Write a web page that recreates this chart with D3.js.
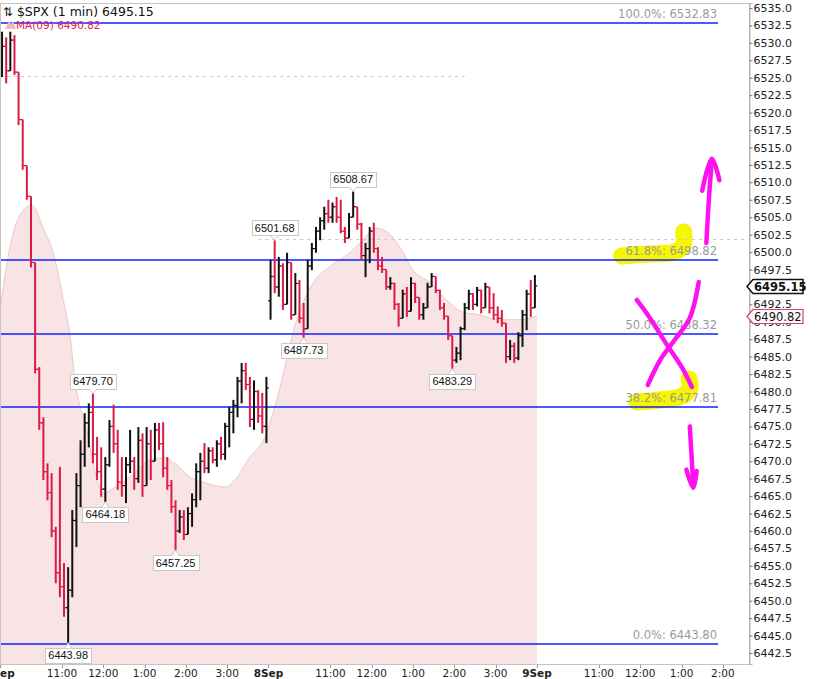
<!DOCTYPE html>
<html>
<head>
<meta charset="utf-8">
<script src="https://cdn.jsdelivr.net/npm/d3@7"></script>
<style>
  body { margin: 0; background: #fff; }
  svg { display: block; }
</style>
</head>
<body>
<div id="chart"></div>
<script>
// ---- data -------------------------------------------------------------
const dayLabels = ["5Sep", "8Sep", "9Sep"];
const hourTicks = [[90, "11:00"], [150, "12:00"], [210, "1:00"], [270, "2:00"], [330, "3:00"]];
const sessionMinutes = 390;   // 9:30 - 16:00
const barMinutes = 6;

// [open, high, low, close] per 6-minute bar
const bars5Sep = [
  [6527.0,6531.6,6525.1,6529.5],[6529.5,6530.8,6524.2,6526.0],[6526.0,6531.6,6526.0,6530.4],[6530.4,6531.1,6525.4,6525.8],
  [6525.8,6525.8,6518.2,6519.0],[6519.0,6519.0,6511.8,6512.4],[6512.4,6512.4,6507.5,6508.0],[6508.0,6508.0,6497.8,6498.5],
  [6498.5,6498.5,6482.6,6483.2],[6483.2,6483.5,6474.5,6475.5],[6475.5,6476.3,6467.3,6468.5],[6468.5,6469.7,6464.4,6465.5],
  [6465.5,6468.3,6459.1,6460.0],[6460.0,6460.6,6452.5,6454.0],[6454.0,6469.2,6450.5,6452.0],[6452.0,6455.4,6447.7,6449.0],
  [6449.0,6454.8,6443.98,6451.5],[6451.5,6463.0,6450.5,6461.5],[6461.5,6468.3,6457.7,6466.5],[6466.5,6473.0,6463.4,6471.0],
  [6471.0,6476.9,6469.2,6475.5],[6475.5,6478.3,6472.0,6477.0],[6477.0,6479.70,6469.7,6471.0],[6471.0,6473.5,6467.3,6468.5],
  [6468.5,6472.0,6464.9,6466.0],[6466.0,6470.6,6464.18,6469.5],[6469.5,6475.9,6469.2,6475.0],[6475.0,6478.1,6471.2,6472.5],
  [6472.5,6474.5,6465.9,6467.0],[6467.0,6470.6,6464.9,6466.5],[6466.5,6470.6,6464.0,6469.5],[6469.5,6474.5,6468.3,6470.0],
  [6470.0,6470.6,6465.9,6467.5],[6467.5,6474.9,6466.9,6473.0],[6473.0,6474.0,6464.9,6466.5],[6466.5,6474.9,6466.5,6472.5],
  [6472.5,6474.5,6467.3,6470.0],[6470.0,6475.5,6470.0,6474.5],[6474.5,6475.5,6471.6,6472.5],[6472.5,6475.6,6467.7,6469.0],
  [6469.0,6470.6,6465.9,6466.5],[6466.5,6467.3,6462.6,6463.5],[6463.5,6464.4,6457.25,6460.0],[6460.0,6463.0,6459.7,6462.0],
  [6462.0,6463.0,6458.7,6459.5],[6459.5,6463.4,6459.5,6462.5],[6462.5,6465.4,6460.6,6464.5],[6464.5,6469.7,6463.4,6468.5],
  [6468.5,6471.2,6464.4,6470.0],[6470.0,6472.6,6468.3,6469.0],[6469.0,6472.0,6468.3,6471.5],[6471.5,6472.0,6469.7,6470.2],
  [6470.2,6473.0,6469.2,6472.5],[6472.5,6473.5,6470.2,6471.0],[6471.0,6475.5,6470.2,6475.0],[6475.0,6477.8,6472.0,6477.0],
  [6477.0,6478.8,6474.0,6478.0],[6478.0,6482.1,6476.3,6481.5],[6481.5,6484.1,6478.3,6483.0],[6483.0,6484.1,6480.2,6481.0],
  [6481.0,6482.1,6474.9,6476.0],[6476.0,6481.6,6474.5,6480.0],[6480.0,6480.2,6475.5,6476.5],[6476.5,6479.8,6474.0,6475.0],
  [6475.0,6482.1,6472.6,6480.5]
];
const bars8Sep = [
  [6493.0,6498.9,6490.3,6496.5],[6496.5,6501.68,6494.1,6495.0],[6495.0,6499.3,6493.6,6498.0],[6498.0,6498.4,6491.7,6492.5],
  [6492.5,6499.9,6492.5,6498.5],[6498.5,6498.5,6490.3,6491.0],[6491.0,6497.0,6491.0,6495.5],[6495.5,6496.0,6489.8,6490.5],
  [6490.5,6492.7,6487.73,6489.0],[6489.0,6498.9,6489.0,6498.0],[6498.0,6501.3,6497.4,6500.5],[6500.5,6503.6,6499.9,6503.0],
  [6503.0,6505.0,6501.7,6504.5],[6504.5,6506.5,6503.2,6505.5],[6505.5,6507.5,6504.2,6505.0],[6505.0,6507.1,6504.2,6506.5],
  [6506.5,6507.9,6504.2,6505.0],[6505.0,6507.5,6502.7,6503.0],[6503.0,6503.6,6501.3,6502.0],[6502.0,6505.6,6502.0,6505.0],
  [6505.0,6508.67,6505.0,6506.5],[6506.5,6506.5,6503.2,6504.0],[6504.0,6504.2,6498.9,6499.5],[6499.5,6501.3,6496.4,6500.5],
  [6500.5,6503.6,6498.4,6503.0],[6503.0,6504.2,6499.9,6500.5],[6500.5,6500.7,6497.4,6498.0],[6498.0,6499.3,6497.0,6497.5],
  [6497.5,6497.5,6494.6,6495.0],[6495.0,6496.4,6494.6,6495.5],[6495.5,6495.6,6491.7,6492.5],[6492.5,6492.7,6489.3,6490.5],
  [6490.5,6494.6,6490.5,6494.0],[6494.0,6495.0,6490.7,6491.5],[6491.5,6496.4,6491.5,6495.5],[6495.5,6495.6,6492.7,6493.5],
  [6493.5,6493.5,6490.3,6491.0],[6491.0,6492.7,6490.3,6492.0],[6492.0,6495.6,6492.0,6495.0],[6495.0,6497.0,6495.0,6496.5],
  [6496.5,6496.5,6494.1,6494.5],[6494.5,6494.6,6491.7,6492.0],[6492.0,6492.7,6490.3,6490.8],[6490.8,6490.8,6487.4,6488.0],
  [6488.0,6488.0,6483.29,6484.5],[6484.5,6486.4,6484.1,6485.5],[6485.5,6489.3,6484.5,6489.0],[6489.0,6492.7,6488.8,6492.0],
  [6492.0,6494.6,6491.7,6494.0],[6494.0,6494.1,6491.7,6492.5],[6492.5,6495.0,6492.2,6494.5],[6494.5,6494.6,6491.2,6492.0],
  [6492.0,6495.6,6492.0,6495.0],[6495.0,6495.0,6491.2,6492.0],[6492.0,6494.1,6490.3,6491.0],[6491.0,6492.2,6489.8,6490.5],
  [6490.5,6491.7,6489.3,6489.8],[6489.8,6489.8,6484.1,6485.0],[6485.0,6487.4,6484.5,6486.5],[6486.5,6487.0,6484.1,6484.8],
  [6484.8,6488.5,6484.5,6488.0],[6488.0,6491.7,6486.4,6491.0],[6491.0,6494.6,6488.8,6494.0],[6494.0,6496.0,6490.7,6492.0],
  [6492.0,6496.7,6492.0,6495.15]
];
const sessions = [bars5Sep, bars8Sep];

// MA(09) shaded curve: [minutes since 5Sep 9:30 (sessions joined), value]
const maPoints = [
  [0,6491.7],[15,6501.0],[29,6505.3],[46,6506.75],[62,6503.6],[80,6498.9],[92,6493.1],[102,6487.8],
  [109,6481.6],[126,6474.5],[141,6467.3],[150,6465.4],[167,6466.3],[189,6467.7],[218,6470.2],[240,6470.5],
  [254,6469.7],[276,6467.7],[298,6466.9],[327,6466.3],[341,6467.3],[363,6470.6],[385,6473.5],[402,6478.8],
  [431,6490.3],[455,6495.6],[479,6497.9],[508,6499.9],[527,6501.7],[545,6503.45],[562,6502.9],[581,6500.7],
  [600,6497.4],[625,6495.6],[649,6493.1],[672,6491.4],[697,6491.0],[722,6490.3],[755,6490.3],[780,6490.82]
];

const fibLevels = [["100.0%", 6532.83], ["61.8%", 6498.82], ["50.0%", 6488.32], ["38.2%", 6477.81], ["0.0%", 6443.80]];
const refLines = [[6525.25, 0, 675], [6501.90, 375, 1088]];   // [value, from minute, to minute]
const pivots = [[0, 16, "low"], [0, 22, "high"], [0, 25, "low"], [0, 42, "low"],
                [1, 1, "high"], [1, 8, "low"], [1, 20, "high"], [1, 44, "low"]];   // [session, bar, kind]
const yTicks = [6442.5,6445.0,6447.5,6450.0,6452.5,6455.0,6457.5,6460.0,6462.5,6465.0,6467.5,6470.0,6472.5,
  6475.0,6477.5,6480.0,6482.5,6485.0,6487.5,6490.0,6492.5,6495.0,6497.5,6500.0,6502.5,6505.0,6507.5,6510.0,
  6512.5,6515.0,6517.5,6520.0,6522.5,6525.0,6527.5,6530.0,6532.5,6535.0];
const lastPrice = 6495.15;
const lastMA = 6490.82;

// hand-drawn marks, in [minute, price]
const yellowMarks = [
  [[903,6499.44],[944,6499.72],[980,6500.01],[992,6500.87],[993,6502.88]],
  [[925,6478.5],[959,6478.78],[991,6479.36],[1002,6480.5],[1001,6481.8]]
];
const magentaMarks = [
  [[925,6493.13],[944,6490.55],[969,6486.67],[991,6483.38],[1005,6480.65]],
  [[1015,6495.71],[1002,6490.55],[980,6487.39],[959,6484.52],[941,6480.94]],
  [[1026,6501.3],[1030,6508.0],[1034,6513.2]],
  [[1020,6508.8],[1034,6513.4],[1045,6510.3]],
  [[1002,6475.0],[1005,6470.0],[1007,6466.6]],
  [[997,6468.8],[1007,6466.2],[1012,6468.6]]
];

// ---- layout -----------------------------------------------------------
const W = 821, H = 679;
const plot = { left: 0, right: 749, top: 3, bottom: 664 };
const fontUI = "'DejaVu Sans', Verdana, sans-serif";

const svg = d3.select("#chart").append("svg")
  .attr("width", W).attr("height", H)
  .style("font-family", fontUI);

const x = d3.scaleLinear().domain([0, 1088]).range([plot.left, plot.right]);
const y = d3.scaleLinear().domain([6440.92, 6535.72]).range([plot.bottom, plot.top]);

svg.append("defs").append("clipPath").attr("id", "clip")
  .append("rect").attr("x", plot.left).attr("y", plot.top)
  .attr("width", plot.right - plot.left).attr("height", plot.bottom - plot.top);

const g = svg.append("g").attr("clip-path", "url(#clip)");

// MA area
const area = d3.area().x(d => x(d[0])).y0(y.range()[0]).y1(d => y(d[1])).curve(d3.curveMonotoneX);
const maLine = d3.line().x(d => x(d[0])).y(d => y(d[1])).curve(d3.curveMonotoneX);
g.append("path").datum(maPoints).attr("d", area).attr("fill", "#f8e4e4");
g.append("path").datum(maPoints).attr("d", maLine).attr("fill", "none")
  .attr("stroke", "#eec6c9").attr("stroke-width", 1);

// yellow highlighter (under the lines and labels)
const freeLine = d3.line().x(d => x(d[0])).y(d => y(d[1])).curve(d3.curveCatmullRom);
g.selectAll("path.yellow").data(yellowMarks).enter().append("path")
  .attr("d", freeLine).attr("fill", "none").attr("stroke", "#f6f600")
  .attr("stroke-width", 17).attr("stroke-linecap", "round").attr("stroke-linejoin", "round");

// dashed reference lines
g.selectAll("line.ref").data(refLines).enter().append("line")
  .attr("x1", d => x(d[1])).attr("x2", d => x(d[2]))
  .attr("y1", d => Math.round(y(d[0])) + 0.5).attr("y2", d => Math.round(y(d[0])) + 0.5)
  .attr("stroke", "#c9c9c9").attr("stroke-dasharray", "3,4");

// fib lines
g.selectAll("line.fib").data(fibLevels).enter().append("line")
  .attr("x1", x(0)).attr("x2", 718)
  .attr("y1", d => Math.round(y(d[1]))).attr("y2", d => Math.round(y(d[1])))
  .attr("stroke", "#1020ff").attr("stroke-width", 1.6);

// OHLC bars
const barData = [];
sessions.forEach((bars, s) => bars.forEach((b, i) => barData.push({
  m: s * sessionMinutes + i * barMinutes + barMinutes / 2, o: b[0], h: b[1], l: b[2], c: b[3]
})));
const barG = g.selectAll("g.bar").data(barData).enter().append("g")
  .attr("stroke", d => d.c >= d.o ? "#111" : "#dc1a44");
barG.append("line").attr("x1", d => x(d.m)).attr("x2", d => x(d.m))
  .attr("y1", d => y(d.h)).attr("y2", d => y(d.l)).attr("stroke-width", 2);
barG.append("line").attr("x1", d => x(d.m) - 2.5).attr("x2", d => x(d.m))
  .attr("y1", d => y(d.o)).attr("y2", d => y(d.o)).attr("stroke-width", 1.2);
barG.append("line").attr("x1", d => x(d.m)).attr("x2", d => x(d.m) + 2.5)
  .attr("y1", d => y(d.c)).attr("y2", d => y(d.c)).attr("stroke-width", 1.2);

// fib labels
svg.selectAll("text.fib").data(fibLevels).enter().append("text")
  .attr("x", 717).attr("y", d => y(d[1]) - 5)
  .attr("text-anchor", "end").attr("font-size", 11.5).attr("fill", "#9a9a9a")
  .text(d => `${d[0]}: ${d[1].toFixed(2)}`);

// pivot labels
pivots.forEach(p => {
  const b = sessions[p[0]][p[1]];
  const m = p[0] * sessionMinutes + p[1] * barMinutes + barMinutes / 2;
  const v = p[2] === "high" ? b[1] : b[2];
  const px = x(m), py = y(v);
  const lg = svg.append("g");
  const t = lg.append("text").attr("font-size", 11).attr("font-family", "'Liberation Sans', Arial, sans-serif")
    .attr("fill", "#111").attr("text-anchor", "middle").text(v.toFixed(2));
  const tw = t.node().getComputedTextLength() + 6;
  const bh = 15;
  const top = p[2] === "high" ? py - 5 - bh : py + 5;
  lg.insert("rect", "text").attr("x", Math.round(px - tw / 2) + 0.5).attr("y", Math.round(top) + 0.5)
    .attr("width", Math.round(tw)).attr("height", bh)
    .attr("fill", "#fff").attr("stroke", "#c8c8c8");
  const tipY = p[2] === "high" ? top + bh : top;
  const dir = p[2] === "high" ? 1 : -1;
  lg.append("path").attr("d", `M${px - 4},${tipY + 0.5} L${px},${tipY + dir * 4.5} L${px + 4},${tipY + 0.5}`)
    .attr("fill", "#fff").attr("stroke", "#c8c8c8");
  t.attr("x", px).attr("y", top + 11.5);
});

// magenta ink
svg.selectAll("path.magenta").data(magentaMarks).enter().append("path")
  .attr("d", freeLine).attr("fill", "none").attr("stroke", "#ff10f0")
  .attr("stroke-width", 4.5).attr("stroke-linecap", "round").attr("stroke-linejoin", "round");

// frame
svg.append("rect").attr("x", plot.left + 0.5).attr("y", plot.top + 0.5)
  .attr("width", plot.right - plot.left).attr("height", plot.bottom - plot.top)
  .attr("fill", "none").attr("stroke", "#c4c4c4");

// right price axis
const yAxis = svg.append("g").attr("transform", `translate(${plot.right + 0.5},0)`)
  .call(d3.axisRight(y).tickValues(yTicks).tickSize(3).tickPadding(1).tickFormat(d3.format(".1f")));
yAxis.select(".domain").attr("stroke", "#b0b0b0");
yAxis.selectAll(".tick line").attr("stroke", "#777");
yAxis.selectAll("text").attr("font-size", 11).attr("font-family", fontUI).attr("fill", "#222");

// price tags
function tag(v, stroke, bold) {
  const py = Math.round(y(v)) + 0.5;
  svg.append("path")
    .attr("d", `M${plot.right - 2},${py} L${plot.right + 4},${py - 7} L${803},${py - 7} L${803},${py + 7} L${plot.right + 4},${py + 7} Z`)
    .attr("fill", "#fff").attr("stroke", stroke).attr("stroke-width", bold ? 1.5 : 1.2);
  svg.append("text").attr("x", plot.right + 5).attr("y", py + 4)
    .attr("font-size", 11.5).attr("font-weight", bold ? "bold" : "normal")
    .attr("fill", "#111").text(v.toFixed(2));
}
tag(lastMA, "#d8405e", false);
tag(lastPrice, "#111", true);

// time axis
const xTicks = [];
dayLabels.forEach((d, s) => {
  xTicks.push({ m: s * sessionMinutes, t: d, day: true });
  hourTicks.forEach(h => xTicks.push({ m: s * sessionMinutes + h[0], t: h[1], day: false }));
});
const shownTicks = xTicks.filter(d => x(d.m) < plot.right - 15);
const xg = svg.append("g");
xg.selectAll("line").data(shownTicks).enter().append("line")
  .attr("x1", d => Math.round(x(d.m)) + 0.5).attr("x2", d => Math.round(x(d.m)) + 0.5)
  .attr("y1", plot.bottom + 1).attr("y2", plot.bottom + 4).attr("stroke", "#999");
xg.selectAll("text").data(shownTicks).enter().append("text")
  .attr("x", d => x(d.m)).attr("y", 677).attr("text-anchor", "middle")
  .attr("font-size", 10.5).attr("font-weight", d => d.day ? "bold" : "normal")
  .attr("fill", "#222").text(d => d.t);

// header
const head = svg.append("text").attr("x", 3).attr("y", 16).attr("font-size", 12.5).attr("fill", "#111");
head.append("tspan").attr("font-size", 12).text("⇅ ");
head.append("tspan").text(`$SPX (1 min) ${lastPrice.toFixed(2)}`);
svg.append("path").attr("d", "M5,29 L9,21 L11,24 L13,21 L16,29 Z").attr("fill", "#f0b8c2");
svg.append("text").attr("x", 16).attr("y", 29).attr("font-size", 10.5).attr("fill", "#e2204c")
  .text(`MA(09) ${lastMA.toFixed(2)}`);
</script>
</body>
</html>
